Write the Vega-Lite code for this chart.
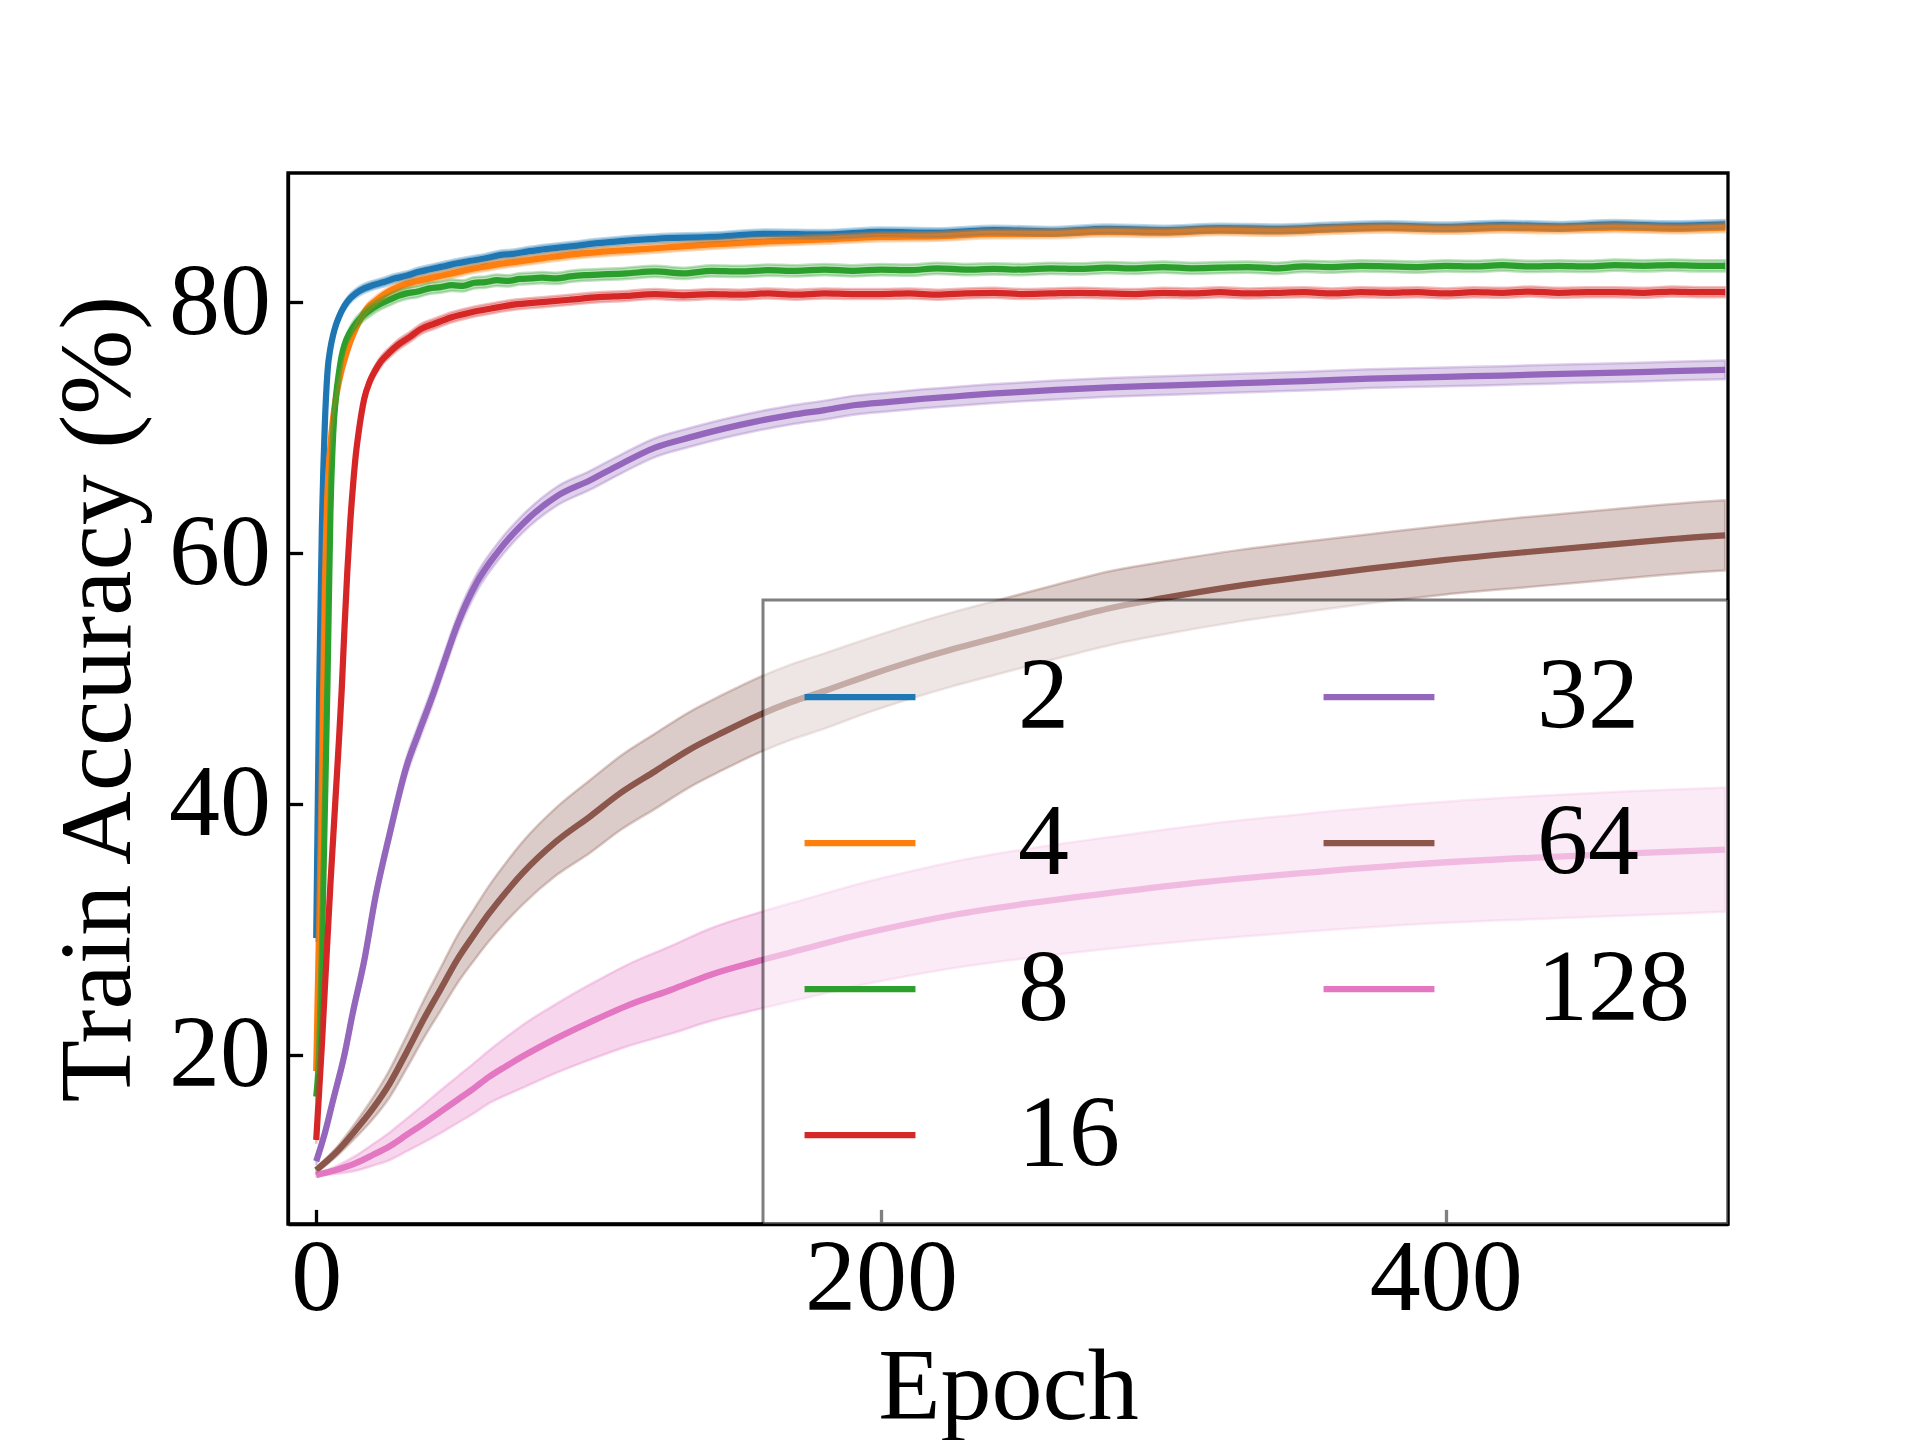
{
  "$schema": "https://vega.github.io/schema/vega-lite/v6.json",
  "width": 1440,
  "height": 1051,
  "autosize": {"type": "none"},
  "padding": {"left": 288, "top": 173, "right": 192, "bottom": 216},
  "background": "white",
  "datasets": {
    "runs": [
      {"s":"2","e":0,"m":29.3,"lo":29.0,"hi":29.6},
      {"s":"2","e":1,"m":48.5,"lo":48.2,"hi":48.8},
      {"s":"2","e":2,"m":62.0,"lo":61.7,"hi":62.3},
      {"s":"2","e":3,"m":70.0,"lo":69.7,"hi":70.3},
      {"s":"2","e":4,"m":74.5,"lo":74.2,"hi":74.8},
      {"s":"2","e":5,"m":76.3,"lo":76.0,"hi":76.6},
      {"s":"2","e":6,"m":77.4,"lo":77.1,"hi":77.7},
      {"s":"2","e":7,"m":78.2,"lo":77.9,"hi":78.5},
      {"s":"2","e":8,"m":78.8,"lo":78.45,"hi":79.15},
      {"s":"2","e":10,"m":79.7,"lo":79.35,"hi":80.05},
      {"s":"2","e":12,"m":80.3,"lo":79.95,"hi":80.65},
      {"s":"2","e":14,"m":80.7,"lo":80.35,"hi":81.05},
      {"s":"2","e":17,"m":81.1,"lo":80.75,"hi":81.45},
      {"s":"2","e":20,"m":81.35,"lo":81.0,"hi":81.7},
      {"s":"2","e":24,"m":81.6,"lo":81.25,"hi":81.95},
      {"s":"2","e":28,"m":81.9,"lo":81.55,"hi":82.25},
      {"s":"2","e":32,"m":82.1,"lo":81.75,"hi":82.45},
      {"s":"2","e":36,"m":82.4,"lo":82.05,"hi":82.75},
      {"s":"2","e":40,"m":82.6,"lo":82.25,"hi":82.95},
      {"s":"2","e":45,"m":82.85,"lo":82.5,"hi":83.2},
      {"s":"2","e":50,"m":83.1,"lo":82.75,"hi":83.45},
      {"s":"2","e":55,"m":83.3,"lo":82.95,"hi":83.65},
      {"s":"2","e":60,"m":83.5,"lo":83.15,"hi":83.85},
      {"s":"2","e":65,"m":83.75,"lo":83.4,"hi":84.1},
      {"s":"2","e":70,"m":83.85,"lo":83.5,"hi":84.2},
      {"s":"2","e":75,"m":84.05,"lo":83.7,"hi":84.4},
      {"s":"2","e":80,"m":84.2,"lo":83.85,"hi":84.55},
      {"s":"2","e":90,"m":84.45,"lo":84.1,"hi":84.8},
      {"s":"2","e":100,"m":84.7,"lo":84.35,"hi":85.05},
      {"s":"2","e":110,"m":84.9,"lo":84.55,"hi":85.25},
      {"s":"2","e":120,"m":85.05,"lo":84.7,"hi":85.4},
      {"s":"2","e":140,"m":85.2,"lo":84.85,"hi":85.55},
      {"s":"2","e":160,"m":85.45,"lo":85.1,"hi":85.8},
      {"s":"2","e":180,"m":85.4,"lo":85.05,"hi":85.75},
      {"s":"2","e":200,"m":85.6,"lo":85.25,"hi":85.95},
      {"s":"2","e":220,"m":85.55,"lo":85.2,"hi":85.9},
      {"s":"2","e":240,"m":85.75,"lo":85.4,"hi":86.1},
      {"s":"2","e":260,"m":85.65,"lo":85.3,"hi":86.0},
      {"s":"2","e":280,"m":85.85,"lo":85.5,"hi":86.2},
      {"s":"2","e":300,"m":85.75,"lo":85.4,"hi":86.1},
      {"s":"2","e":320,"m":85.9,"lo":85.55,"hi":86.25},
      {"s":"2","e":340,"m":85.85,"lo":85.5,"hi":86.2},
      {"s":"2","e":360,"m":86.0,"lo":85.65,"hi":86.35},
      {"s":"2","e":380,"m":86.1,"lo":85.75,"hi":86.45},
      {"s":"2","e":400,"m":86.0,"lo":85.65,"hi":86.35},
      {"s":"2","e":420,"m":86.15,"lo":85.8,"hi":86.5},
      {"s":"2","e":440,"m":86.05,"lo":85.7,"hi":86.4},
      {"s":"2","e":460,"m":86.2,"lo":85.85,"hi":86.55},
      {"s":"2","e":480,"m":86.1,"lo":85.75,"hi":86.45},
      {"s":"2","e":499,"m":86.2,"lo":85.85,"hi":86.55},

      {"s":"4","e":0,"m":18.7,"lo":18.4,"hi":19.0},
      {"s":"4","e":1,"m":30.0,"lo":29.7,"hi":30.3},
      {"s":"4","e":2,"m":43.0,"lo":42.7,"hi":43.3},
      {"s":"4","e":3,"m":57.0,"lo":56.7,"hi":57.3},
      {"s":"4","e":4,"m":65.0,"lo":64.7,"hi":65.3},
      {"s":"4","e":5,"m":68.5,"lo":68.2,"hi":68.8},
      {"s":"4","e":6,"m":70.8,"lo":70.5,"hi":71.1},
      {"s":"4","e":7,"m":72.4,"lo":72.1,"hi":72.7},
      {"s":"4","e":8,"m":73.6,"lo":73.25,"hi":73.95},
      {"s":"4","e":9,"m":74.6,"lo":74.25,"hi":74.95},
      {"s":"4","e":10,"m":75.4,"lo":75.05,"hi":75.75},
      {"s":"4","e":12,"m":76.8,"lo":76.45,"hi":77.15},
      {"s":"4","e":14,"m":77.9,"lo":77.55,"hi":78.25},
      {"s":"4","e":16,"m":78.8,"lo":78.45,"hi":79.15},
      {"s":"4","e":18,"m":79.5,"lo":79.15,"hi":79.85},
      {"s":"4","e":21,"m":80.1,"lo":79.75,"hi":80.45},
      {"s":"4","e":24,"m":80.6,"lo":80.25,"hi":80.95},
      {"s":"4","e":27,"m":81.0,"lo":80.65,"hi":81.35},
      {"s":"4","e":30,"m":81.3,"lo":80.95,"hi":81.65},
      {"s":"4","e":35,"m":81.65,"lo":81.3,"hi":82.0},
      {"s":"4","e":40,"m":81.9,"lo":81.55,"hi":82.25},
      {"s":"4","e":45,"m":82.15,"lo":81.8,"hi":82.5},
      {"s":"4","e":50,"m":82.4,"lo":82.05,"hi":82.75},
      {"s":"4","e":55,"m":82.65,"lo":82.3,"hi":83.0},
      {"s":"4","e":60,"m":82.85,"lo":82.5,"hi":83.2},
      {"s":"4","e":65,"m":83.05,"lo":82.7,"hi":83.4},
      {"s":"4","e":70,"m":83.2,"lo":82.85,"hi":83.55},
      {"s":"4","e":80,"m":83.5,"lo":83.15,"hi":83.85},
      {"s":"4","e":90,"m":83.8,"lo":83.45,"hi":84.15},
      {"s":"4","e":100,"m":84.0,"lo":83.65,"hi":84.35},
      {"s":"4","e":110,"m":84.15,"lo":83.8,"hi":84.5},
      {"s":"4","e":120,"m":84.3,"lo":83.95,"hi":84.65},
      {"s":"4","e":140,"m":84.6,"lo":84.25,"hi":84.95},
      {"s":"4","e":160,"m":84.85,"lo":84.5,"hi":85.2},
      {"s":"4","e":180,"m":85.0,"lo":84.65,"hi":85.35},
      {"s":"4","e":200,"m":85.2,"lo":84.85,"hi":85.55},
      {"s":"4","e":220,"m":85.25,"lo":84.9,"hi":85.6},
      {"s":"4","e":240,"m":85.45,"lo":85.1,"hi":85.8},
      {"s":"4","e":260,"m":85.45,"lo":85.1,"hi":85.8},
      {"s":"4","e":280,"m":85.6,"lo":85.25,"hi":85.95},
      {"s":"4","e":300,"m":85.55,"lo":85.2,"hi":85.9},
      {"s":"4","e":320,"m":85.7,"lo":85.35,"hi":86.05},
      {"s":"4","e":340,"m":85.65,"lo":85.3,"hi":86.0},
      {"s":"4","e":360,"m":85.8,"lo":85.45,"hi":86.15},
      {"s":"4","e":380,"m":85.9,"lo":85.55,"hi":86.25},
      {"s":"4","e":400,"m":85.8,"lo":85.45,"hi":86.15},
      {"s":"4","e":420,"m":85.9,"lo":85.55,"hi":86.25},
      {"s":"4","e":440,"m":85.85,"lo":85.5,"hi":86.2},
      {"s":"4","e":460,"m":85.95,"lo":85.6,"hi":86.3},
      {"s":"4","e":480,"m":85.85,"lo":85.5,"hi":86.2},
      {"s":"4","e":499,"m":85.95,"lo":85.6,"hi":86.3},

      {"s":"8","e":0,"m":16.65,"lo":16.35,"hi":16.95},
      {"s":"8","e":1,"m":20.0,"lo":19.7,"hi":20.3},
      {"s":"8","e":2,"m":28.5,"lo":28.2,"hi":28.8},
      {"s":"8","e":3,"m":39.0,"lo":38.7,"hi":39.3},
      {"s":"8","e":4,"m":50.0,"lo":49.7,"hi":50.3},
      {"s":"8","e":5,"m":63.0,"lo":62.7,"hi":63.3},
      {"s":"8","e":6,"m":69.5,"lo":69.2,"hi":69.8},
      {"s":"8","e":7,"m":72.5,"lo":72.15,"hi":72.85},
      {"s":"8","e":8,"m":74.3,"lo":73.9,"hi":74.7},
      {"s":"8","e":9,"m":75.7,"lo":75.3,"hi":76.1},
      {"s":"8","e":10,"m":76.6,"lo":76.2,"hi":77.0},
      {"s":"8","e":12,"m":77.6,"lo":77.15,"hi":78.05},
      {"s":"8","e":14,"m":78.3,"lo":77.85,"hi":78.75},
      {"s":"8","e":17,"m":79.0,"lo":78.55,"hi":79.45},
      {"s":"8","e":20,"m":79.5,"lo":79.05,"hi":79.95},
      {"s":"8","e":23,"m":79.9,"lo":79.45,"hi":80.35},
      {"s":"8","e":26,"m":80.2,"lo":79.75,"hi":80.65},
      {"s":"8","e":29,"m":80.5,"lo":80.05,"hi":80.95},
      {"s":"8","e":32,"m":80.7,"lo":80.25,"hi":81.15},
      {"s":"8","e":36,"m":80.85,"lo":80.4,"hi":81.3},
      {"s":"8","e":40,"m":81.1,"lo":80.65,"hi":81.55},
      {"s":"8","e":44,"m":81.2,"lo":80.75,"hi":81.65},
      {"s":"8","e":48,"m":81.35,"lo":80.9,"hi":81.8},
      {"s":"8","e":52,"m":81.3,"lo":80.85,"hi":81.75},
      {"s":"8","e":56,"m":81.55,"lo":81.1,"hi":82.0},
      {"s":"8","e":60,"m":81.6,"lo":81.15,"hi":82.05},
      {"s":"8","e":64,"m":81.75,"lo":81.3,"hi":82.2},
      {"s":"8","e":68,"m":81.7,"lo":81.25,"hi":82.15},
      {"s":"8","e":72,"m":81.85,"lo":81.4,"hi":82.3},
      {"s":"8","e":76,"m":81.9,"lo":81.45,"hi":82.35},
      {"s":"8","e":80,"m":81.95,"lo":81.5,"hi":82.4},
      {"s":"8","e":85,"m":81.9,"lo":81.45,"hi":82.35},
      {"s":"8","e":90,"m":82.05,"lo":81.6,"hi":82.5},
      {"s":"8","e":95,"m":82.15,"lo":81.7,"hi":82.6},
      {"s":"8","e":100,"m":82.2,"lo":81.75,"hi":82.65},
      {"s":"8","e":110,"m":82.3,"lo":81.85,"hi":82.75},
      {"s":"8","e":120,"m":82.45,"lo":82.0,"hi":82.9},
      {"s":"8","e":130,"m":82.3,"lo":81.85,"hi":82.75},
      {"s":"8","e":140,"m":82.5,"lo":82.05,"hi":82.95},
      {"s":"8","e":150,"m":82.45,"lo":82.0,"hi":82.9},
      {"s":"8","e":160,"m":82.55,"lo":82.1,"hi":83.0},
      {"s":"8","e":170,"m":82.5,"lo":82.05,"hi":82.95},
      {"s":"8","e":180,"m":82.6,"lo":82.15,"hi":83.05},
      {"s":"8","e":190,"m":82.5,"lo":82.05,"hi":82.95},
      {"s":"8","e":200,"m":82.6,"lo":82.15,"hi":83.05},
      {"s":"8","e":210,"m":82.55,"lo":82.1,"hi":83.0},
      {"s":"8","e":220,"m":82.7,"lo":82.25,"hi":83.15},
      {"s":"8","e":230,"m":82.6,"lo":82.15,"hi":83.05},
      {"s":"8","e":240,"m":82.65,"lo":82.2,"hi":83.1},
      {"s":"8","e":250,"m":82.6,"lo":82.15,"hi":83.05},
      {"s":"8","e":260,"m":82.7,"lo":82.25,"hi":83.15},
      {"s":"8","e":270,"m":82.65,"lo":82.2,"hi":83.1},
      {"s":"8","e":280,"m":82.75,"lo":82.3,"hi":83.2},
      {"s":"8","e":290,"m":82.7,"lo":82.25,"hi":83.15},
      {"s":"8","e":300,"m":82.8,"lo":82.35,"hi":83.25},
      {"s":"8","e":310,"m":82.7,"lo":82.25,"hi":83.15},
      {"s":"8","e":320,"m":82.75,"lo":82.3,"hi":83.2},
      {"s":"8","e":330,"m":82.8,"lo":82.35,"hi":83.25},
      {"s":"8","e":340,"m":82.7,"lo":82.25,"hi":83.15},
      {"s":"8","e":350,"m":82.85,"lo":82.4,"hi":83.3},
      {"s":"8","e":360,"m":82.8,"lo":82.35,"hi":83.25},
      {"s":"8","e":370,"m":82.9,"lo":82.45,"hi":83.35},
      {"s":"8","e":380,"m":82.85,"lo":82.4,"hi":83.3},
      {"s":"8","e":390,"m":82.8,"lo":82.35,"hi":83.25},
      {"s":"8","e":400,"m":82.9,"lo":82.45,"hi":83.35},
      {"s":"8","e":410,"m":82.85,"lo":82.4,"hi":83.3},
      {"s":"8","e":420,"m":82.95,"lo":82.5,"hi":83.4},
      {"s":"8","e":430,"m":82.85,"lo":82.4,"hi":83.3},
      {"s":"8","e":440,"m":82.9,"lo":82.45,"hi":83.35},
      {"s":"8","e":450,"m":82.85,"lo":82.4,"hi":83.3},
      {"s":"8","e":460,"m":82.95,"lo":82.5,"hi":83.4},
      {"s":"8","e":470,"m":82.9,"lo":82.45,"hi":83.35},
      {"s":"8","e":480,"m":82.95,"lo":82.5,"hi":83.4},
      {"s":"8","e":490,"m":82.9,"lo":82.45,"hi":83.35},
      {"s":"8","e":499,"m":82.9,"lo":82.45,"hi":83.35},

      {"s":"16","e":0,"m":13.2,"lo":12.9,"hi":13.5},
      {"s":"16","e":1,"m":17.0,"lo":16.7,"hi":17.3},
      {"s":"16","e":2,"m":20.8,"lo":20.5,"hi":21.1},
      {"s":"16","e":3,"m":25.1,"lo":24.8,"hi":25.4},
      {"s":"16","e":4,"m":29.3,"lo":29.0,"hi":29.6},
      {"s":"16","e":5,"m":33.5,"lo":33.2,"hi":33.8},
      {"s":"16","e":6,"m":37.3,"lo":37.0,"hi":37.6},
      {"s":"16","e":7,"m":41.1,"lo":40.8,"hi":41.4},
      {"s":"16","e":8,"m":44.9,"lo":44.6,"hi":45.2},
      {"s":"16","e":9,"m":49.0,"lo":48.7,"hi":49.3},
      {"s":"16","e":10,"m":54.0,"lo":53.7,"hi":54.3},
      {"s":"16","e":11,"m":58.5,"lo":58.2,"hi":58.8},
      {"s":"16","e":12,"m":62.3,"lo":62.0,"hi":62.6},
      {"s":"16","e":13,"m":65.3,"lo":65.0,"hi":65.6},
      {"s":"16","e":14,"m":67.8,"lo":67.45,"hi":68.15},
      {"s":"16","e":15,"m":69.6,"lo":69.25,"hi":69.95},
      {"s":"16","e":16,"m":71.1,"lo":70.7,"hi":71.5},
      {"s":"16","e":17,"m":72.3,"lo":71.9,"hi":72.7},
      {"s":"16","e":19,"m":73.7,"lo":73.3,"hi":74.1},
      {"s":"16","e":21,"m":74.6,"lo":74.2,"hi":75.0},
      {"s":"16","e":23,"m":75.3,"lo":74.9,"hi":75.7},
      {"s":"16","e":26,"m":76.0,"lo":75.6,"hi":76.4},
      {"s":"16","e":29,"m":76.6,"lo":76.2,"hi":77.0},
      {"s":"16","e":33,"m":77.2,"lo":76.8,"hi":77.6},
      {"s":"16","e":37,"m":77.85,"lo":77.45,"hi":78.25},
      {"s":"16","e":42,"m":78.3,"lo":77.9,"hi":78.7},
      {"s":"16","e":48,"m":78.8,"lo":78.4,"hi":79.2},
      {"s":"16","e":55,"m":79.2,"lo":78.8,"hi":79.6},
      {"s":"16","e":62,"m":79.5,"lo":79.1,"hi":79.9},
      {"s":"16","e":70,"m":79.8,"lo":79.4,"hi":80.2},
      {"s":"16","e":80,"m":80.0,"lo":79.6,"hi":80.4},
      {"s":"16","e":90,"m":80.2,"lo":79.8,"hi":80.6},
      {"s":"16","e":100,"m":80.4,"lo":80.0,"hi":80.8},
      {"s":"16","e":110,"m":80.5,"lo":80.1,"hi":80.9},
      {"s":"16","e":120,"m":80.65,"lo":80.25,"hi":81.05},
      {"s":"16","e":130,"m":80.55,"lo":80.15,"hi":80.95},
      {"s":"16","e":140,"m":80.65,"lo":80.25,"hi":81.05},
      {"s":"16","e":150,"m":80.6,"lo":80.2,"hi":81.0},
      {"s":"16","e":160,"m":80.7,"lo":80.3,"hi":81.1},
      {"s":"16","e":170,"m":80.6,"lo":80.2,"hi":81.0},
      {"s":"16","e":180,"m":80.7,"lo":80.3,"hi":81.1},
      {"s":"16","e":190,"m":80.65,"lo":80.25,"hi":81.05},
      {"s":"16","e":200,"m":80.65,"lo":80.25,"hi":81.05},
      {"s":"16","e":210,"m":80.7,"lo":80.3,"hi":81.1},
      {"s":"16","e":220,"m":80.6,"lo":80.2,"hi":81.0},
      {"s":"16","e":230,"m":80.7,"lo":80.3,"hi":81.1},
      {"s":"16","e":240,"m":80.75,"lo":80.35,"hi":81.15},
      {"s":"16","e":250,"m":80.65,"lo":80.25,"hi":81.05},
      {"s":"16","e":260,"m":80.7,"lo":80.3,"hi":81.1},
      {"s":"16","e":270,"m":80.75,"lo":80.35,"hi":81.15},
      {"s":"16","e":280,"m":80.7,"lo":80.3,"hi":81.1},
      {"s":"16","e":290,"m":80.65,"lo":80.25,"hi":81.05},
      {"s":"16","e":300,"m":80.75,"lo":80.35,"hi":81.15},
      {"s":"16","e":310,"m":80.7,"lo":80.3,"hi":81.1},
      {"s":"16","e":320,"m":80.8,"lo":80.4,"hi":81.2},
      {"s":"16","e":330,"m":80.7,"lo":80.3,"hi":81.1},
      {"s":"16","e":340,"m":80.75,"lo":80.35,"hi":81.15},
      {"s":"16","e":350,"m":80.8,"lo":80.4,"hi":81.2},
      {"s":"16","e":360,"m":80.7,"lo":80.3,"hi":81.1},
      {"s":"16","e":370,"m":80.8,"lo":80.4,"hi":81.2},
      {"s":"16","e":380,"m":80.75,"lo":80.35,"hi":81.15},
      {"s":"16","e":390,"m":80.8,"lo":80.4,"hi":81.2},
      {"s":"16","e":400,"m":80.7,"lo":80.3,"hi":81.1},
      {"s":"16","e":410,"m":80.8,"lo":80.4,"hi":81.2},
      {"s":"16","e":420,"m":80.75,"lo":80.35,"hi":81.15},
      {"s":"16","e":430,"m":80.85,"lo":80.45,"hi":81.25},
      {"s":"16","e":440,"m":80.75,"lo":80.35,"hi":81.15},
      {"s":"16","e":450,"m":80.8,"lo":80.4,"hi":81.2},
      {"s":"16","e":460,"m":80.8,"lo":80.4,"hi":81.2},
      {"s":"16","e":470,"m":80.75,"lo":80.35,"hi":81.15},
      {"s":"16","e":480,"m":80.85,"lo":80.45,"hi":81.25},
      {"s":"16","e":490,"m":80.8,"lo":80.4,"hi":81.2},
      {"s":"16","e":499,"m":80.8,"lo":80.4,"hi":81.2},

      {"s":"32","e":0,"m":11.5,"lo":11.2,"hi":11.8},
      {"s":"32","e":3,"m":13.7,"lo":13.3,"hi":14.1},
      {"s":"32","e":6,"m":16.4,"lo":15.9,"hi":16.9},
      {"s":"32","e":10,"m":20.0,"lo":19.4,"hi":20.6},
      {"s":"32","e":13,"m":23.4,"lo":22.8,"hi":24.0},
      {"s":"32","e":17,"m":27.5,"lo":26.85,"hi":28.15},
      {"s":"32","e":21,"m":32.6,"lo":31.9,"hi":33.3},
      {"s":"32","e":26,"m":37.6,"lo":36.9,"hi":38.3},
      {"s":"32","e":32,"m":43.0,"lo":42.3,"hi":43.7},
      {"s":"32","e":36,"m":45.5,"lo":44.8,"hi":46.2},
      {"s":"32","e":41,"m":48.5,"lo":47.8,"hi":49.2},
      {"s":"32","e":45,"m":51.1,"lo":50.4,"hi":51.8},
      {"s":"32","e":50,"m":54.3,"lo":53.6,"hi":55.0},
      {"s":"32","e":57,"m":57.7,"lo":57.0,"hi":58.4},
      {"s":"32","e":64,"m":60.0,"lo":59.3,"hi":60.7},
      {"s":"32","e":73,"m":62.3,"lo":61.6,"hi":63.0},
      {"s":"32","e":85,"m":64.5,"lo":63.75,"hi":65.25},
      {"s":"32","e":97,"m":65.8,"lo":65.05,"hi":66.55},
      {"s":"32","e":108,"m":67.1,"lo":66.35,"hi":67.85},
      {"s":"32","e":120,"m":68.4,"lo":67.65,"hi":69.15},
      {"s":"32","e":132,"m":69.2,"lo":68.45,"hi":69.95},
      {"s":"32","e":144,"m":69.9,"lo":69.15,"hi":70.65},
      {"s":"32","e":156,"m":70.5,"lo":69.75,"hi":71.25},
      {"s":"32","e":168,"m":71.0,"lo":70.25,"hi":71.75},
      {"s":"32","e":180,"m":71.4,"lo":70.65,"hi":72.15},
      {"s":"32","e":191,"m":71.8,"lo":71.05,"hi":72.55},
      {"s":"32","e":203,"m":72.05,"lo":71.3,"hi":72.8},
      {"s":"32","e":215,"m":72.3,"lo":71.55,"hi":73.05},
      {"s":"32","e":227,"m":72.5,"lo":71.75,"hi":73.25},
      {"s":"32","e":239,"m":72.7,"lo":71.95,"hi":73.45},
      {"s":"32","e":250,"m":72.85,"lo":72.1,"hi":73.6},
      {"s":"32","e":262,"m":73.0,"lo":72.25,"hi":73.75},
      {"s":"32","e":281,"m":73.2,"lo":72.45,"hi":73.95},
      {"s":"32","e":300,"m":73.35,"lo":72.6,"hi":74.1},
      {"s":"32","e":327,"m":73.55,"lo":72.8,"hi":74.3},
      {"s":"32","e":350,"m":73.7,"lo":72.95,"hi":74.45},
      {"s":"32","e":373,"m":73.9,"lo":73.15,"hi":74.65},
      {"s":"32","e":400,"m":74.05,"lo":73.3,"hi":74.8},
      {"s":"32","e":420,"m":74.15,"lo":73.4,"hi":74.9},
      {"s":"32","e":445,"m":74.3,"lo":73.55,"hi":75.05},
      {"s":"32","e":465,"m":74.4,"lo":73.65,"hi":75.15},
      {"s":"32","e":480,"m":74.5,"lo":73.75,"hi":75.25},
      {"s":"32","e":499,"m":74.6,"lo":73.85,"hi":75.35},

      {"s":"64","e":0,"m":10.8,"lo":10.6,"hi":11.0},
      {"s":"64","e":7,"m":12.2,"lo":11.85,"hi":12.55},
      {"s":"64","e":14,"m":14.0,"lo":13.4,"hi":14.6},
      {"s":"64","e":20,"m":15.7,"lo":14.85,"hi":16.55},
      {"s":"64","e":26,"m":17.7,"lo":16.6,"hi":18.8},
      {"s":"64","e":32,"m":20.2,"lo":18.9,"hi":21.5},
      {"s":"64","e":38,"m":22.8,"lo":21.3,"hi":24.3},
      {"s":"64","e":44,"m":25.2,"lo":23.5,"hi":26.9},
      {"s":"64","e":50,"m":27.6,"lo":25.7,"hi":29.5},
      {"s":"64","e":56,"m":29.6,"lo":27.55,"hi":31.65},
      {"s":"64","e":61,"m":31.2,"lo":29.0,"hi":33.4},
      {"s":"64","e":67,"m":32.9,"lo":30.55,"hi":35.25},
      {"s":"64","e":73,"m":34.45,"lo":31.95,"hi":36.95},
      {"s":"64","e":85,"m":37.0,"lo":34.3,"hi":39.7},
      {"s":"64","e":97,"m":39.0,"lo":36.1,"hi":41.9},
      {"s":"64","e":108,"m":40.9,"lo":37.95,"hi":43.85},
      {"s":"64","e":120,"m":42.6,"lo":39.6,"hi":45.6},
      {"s":"64","e":132,"m":44.3,"lo":41.3,"hi":47.3},
      {"s":"64","e":144,"m":45.7,"lo":42.7,"hi":48.7},
      {"s":"64","e":157,"m":47.1,"lo":44.1,"hi":50.1},
      {"s":"64","e":168,"m":48.1,"lo":45.1,"hi":51.1},
      {"s":"64","e":180,"m":49.0,"lo":46.0,"hi":52.0},
      {"s":"64","e":195,"m":50.2,"lo":47.25,"hi":53.15},
      {"s":"64","e":210,"m":51.3,"lo":48.35,"hi":54.25},
      {"s":"64","e":225,"m":52.3,"lo":49.35,"hi":55.25},
      {"s":"64","e":240,"m":53.2,"lo":50.25,"hi":56.15},
      {"s":"64","e":260,"m":54.4,"lo":51.45,"hi":57.35},
      {"s":"64","e":281,"m":55.6,"lo":52.65,"hi":58.55},
      {"s":"64","e":300,"m":56.4,"lo":53.5,"hi":59.3},
      {"s":"64","e":327,"m":57.4,"lo":54.55,"hi":60.25},
      {"s":"64","e":350,"m":58.1,"lo":55.3,"hi":60.9},
      {"s":"64","e":373,"m":58.75,"lo":56.0,"hi":61.5},
      {"s":"64","e":400,"m":59.45,"lo":56.7,"hi":62.2},
      {"s":"64","e":430,"m":60.1,"lo":57.3,"hi":62.9},
      {"s":"64","e":465,"m":60.8,"lo":58.0,"hi":63.6},
      {"s":"64","e":480,"m":61.1,"lo":58.3,"hi":63.9},
      {"s":"64","e":499,"m":61.4,"lo":58.6,"hi":64.2},

      {"s":"128","e":0,"m":10.4,"lo":10.3,"hi":10.5},
      {"s":"128","e":7,"m":10.8,"lo":10.5,"hi":11.1},
      {"s":"128","e":14,"m":11.35,"lo":10.75,"hi":11.95},
      {"s":"128","e":20,"m":12.0,"lo":11.15,"hi":12.85},
      {"s":"128","e":26,"m":12.7,"lo":11.6,"hi":13.8},
      {"s":"128","e":32,"m":13.6,"lo":12.3,"hi":14.9},
      {"s":"128","e":38,"m":14.5,"lo":13.0,"hi":16.0},
      {"s":"128","e":44,"m":15.45,"lo":13.75,"hi":17.15},
      {"s":"128","e":50,"m":16.4,"lo":14.55,"hi":18.25},
      {"s":"128","e":56,"m":17.35,"lo":15.35,"hi":19.35},
      {"s":"128","e":61,"m":18.2,"lo":16.1,"hi":20.3},
      {"s":"128","e":67,"m":19.05,"lo":16.75,"hi":21.35},
      {"s":"128","e":73,"m":19.85,"lo":17.35,"hi":22.35},
      {"s":"128","e":85,"m":21.3,"lo":18.55,"hi":24.05},
      {"s":"128","e":97,"m":22.6,"lo":19.6,"hi":25.6},
      {"s":"128","e":110,"m":23.9,"lo":20.65,"hi":27.15},
      {"s":"128","e":126,"m":25.2,"lo":21.7,"hi":28.7},
      {"s":"128","e":140,"m":26.4,"lo":22.7,"hi":30.1},
      {"s":"128","e":157,"m":27.5,"lo":23.65,"hi":31.35},
      {"s":"128","e":174,"m":28.5,"lo":24.55,"hi":32.45},
      {"s":"128","e":191,"m":29.5,"lo":25.45,"hi":33.55},
      {"s":"128","e":209,"m":30.4,"lo":26.25,"hi":34.55},
      {"s":"128","e":227,"m":31.2,"lo":26.95,"hi":35.45},
      {"s":"128","e":250,"m":32.0,"lo":27.65,"hi":36.35},
      {"s":"128","e":281,"m":32.9,"lo":28.45,"hi":37.35},
      {"s":"128","e":316,"m":33.8,"lo":29.2,"hi":38.4},
      {"s":"128","e":350,"m":34.5,"lo":29.8,"hi":39.2},
      {"s":"128","e":390,"m":35.2,"lo":30.4,"hi":40.0},
      {"s":"128","e":430,"m":35.7,"lo":30.8,"hi":40.6},
      {"s":"128","e":465,"m":36.05,"lo":31.1,"hi":41.0},
      {"s":"128","e":499,"m":36.35,"lo":31.4,"hi":41.3}
    ]
  },
  "data": {"name": "runs"},
  "layer": [
    {
      "mark": {"type": "line", "strokeWidth": 6.25, "interpolate": "monotone"},
      "encoding": {
        "x": {
          "field": "e",
          "type": "quantitative",
          "scale": {"domain": [-10, 500], "nice": false, "zero": false},
          "axis": {
            "values": [0, 200, 400],
            "title": "Epoch",
            "format": "d",
            "labelPadding": 19,
            "titlePadding": 8
          }
        },
        "y": {
          "field": "m",
          "type": "quantitative",
          "scale": {"domain": [6.5, 90.3], "nice": false, "zero": false},
          "axis": {
            "values": [20, 40, 60, 80],
            "title": "Train Accuracy (%)",
            "format": "d",
            "labelPadding": 32,
            "titlePadding": 18
          }
        },
        "color": {
          "field": "s",
          "type": "nominal",
          "scale": {
            "domain": ["2", "4", "8", "16", "32", "64", "128"],
            "range": ["#1f77b4", "#ff7f0e", "#2ca02c", "#d62728", "#9467bd", "#8c564b", "#e377c2"]
          },
          "legend": {
            "title": null,
            "orient": "bottom-right",
            "offset": 0,
            "columns": 2,
            "symbolType": "stroke",
            "symbolSize": 12300,
            "symbolStrokeWidth": 6.25,
            "symbolOpacity": 1,
            "labelFont": "Liberation Serif",
            "labelFontSize": 102,
            "labelColor": "black",
            "labelOffset": 99,
            "labelLimit": 400,
            "labelExpr": "datum.label + ' '",
            "rowPadding": 36,
            "columnPadding": 191,
            "padding": 38,
            "fillColor": "rgba(255,255,255,0.5)",
            "strokeColor": "rgba(0,0,0,0.5)",
            "cornerRadius": 0,
            "zindex": 2
          }
        }
      }
    },
    {
      "mark": {"type": "area", "interpolate": "monotone", "fillOpacity": 0.3, "strokeOpacity": 0.3, "strokeWidth": 2.5},
      "encoding": {
        "x": {"field": "e", "type": "quantitative"},
        "y": {"field": "lo", "type": "quantitative"},
        "y2": {"field": "hi"},
        "color": {"field": "s", "type": "nominal"},
        "stroke": {
          "field": "s",
          "type": "nominal",
          "scale": {
            "domain": ["2", "4", "8", "16", "32", "64", "128"],
            "range": ["#1f77b4", "#ff7f0e", "#2ca02c", "#d62728", "#9467bd", "#8c564b", "#e377c2"]
          },
          "legend": null
        }
      }
    }
  ],
  "config": {
    "font": "Liberation Serif",
    "view": {"stroke": "black", "strokeWidth": 3.3},
    "legend": {"strokeWidth": 3},
    "axis": {
      "grid": false,
      "domainColor": "black",
      "domainWidth": 3.3,
      "tickColor": "black",
      "tickWidth": 3.3,
      "tickSize": -14.6,
      "labelFont": "Liberation Serif",
      "labelFontSize": 102,
      "labelColor": "black",
      "labelFlush": false,
      "labelOverlap": false,
      "titleFont": "Liberation Serif",
      "titleFontSize": 102,
      "titleFontWeight": "normal",
      "titleColor": "black",
      "zindex": 1
    }
  }
}
